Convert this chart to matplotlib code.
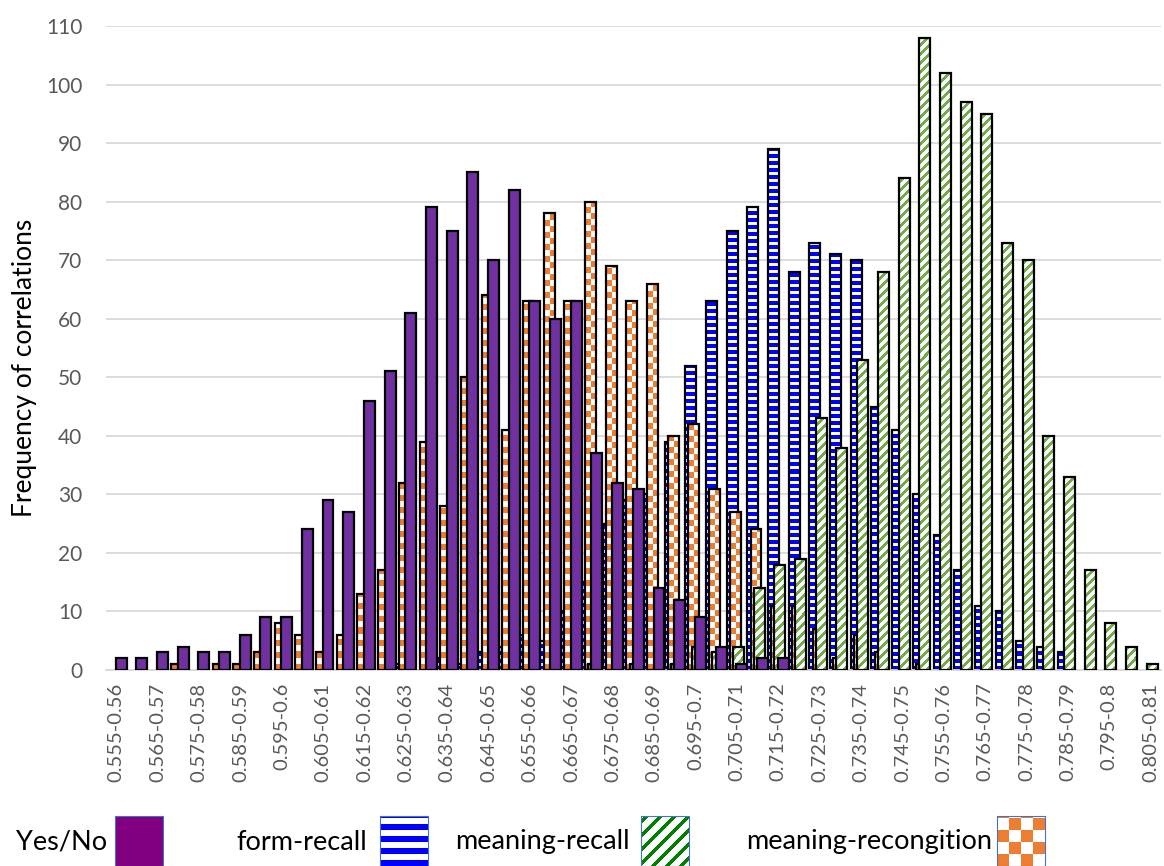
import numpy as np
import matplotlib
matplotlib.use("Agg")
import matplotlib.pyplot as plt
from matplotlib.patches import Rectangle
from matplotlib.colors import to_rgb

plt.rcParams['font.family'] = ['Lato', 'DejaVu Sans']

# ---------------- data ----------------
# 51 bins of width 0.005 from 0.555 to 0.81; every other bin is labelled
tick_labels = ["0.555-0.56", "0.565-0.57", "0.575-0.58", "0.585-0.59", "0.595-0.6",
               "0.605-0.61", "0.615-0.62", "0.625-0.63", "0.635-0.64", "0.645-0.65",
               "0.655-0.66", "0.665-0.67", "0.675-0.68", "0.685-0.69", "0.695-0.7",
               "0.705-0.71", "0.715-0.72", "0.725-0.73", "0.735-0.74", "0.745-0.75",
               "0.755-0.76", "0.765-0.77", "0.775-0.78", "0.785-0.79", "0.795-0.8",
               "0.805-0.81"]

yes_no = [2, 2, 3, 4, 3, 3, 6, 9, 9, 24,
          29, 27, 46, 51, 61, 79, 75, 85, 70, 82,
          63, 60, 63, 37, 32, 31, 14, 12, 9, 4,
          1, 2, 2, 0, 0, 0, 0, 0, 0, 0,
          0, 0, 0, 0, 0, 0, 0, 0, 0, 0, 0]

form_recall = [0, 0, 0, 0, 0, 0, 0, 0, 0, 0,
               0, 0, 0, 0, 1, 0, 2, 1, 3, 4,
               6, 5, 10, 15, 25, 29, 30, 39, 52, 63,
               75, 79, 89, 68, 73, 71, 70, 45, 41, 30,
               23, 17, 11, 10, 5, 4, 3, 0, 0, 0, 0]

meaning_recall = [0, 0, 0, 0, 0, 0, 0, 0, 0, 0,
                  0, 0, 0, 0, 0, 0, 0, 0, 0, 0,
                  0, 0, 0, 1, 0, 1, 0, 1, 4, 3,
                  4, 14, 18, 19, 43, 38, 53, 68, 84, 108,
                  102, 97, 95, 73, 70, 40, 33, 17, 8, 4, 1]

meaning_recognition = [0, 0, 0, 1, 0, 1, 1, 3, 8, 6,
                       3, 6, 13, 17, 32, 39, 28, 50, 64, 41,
                       63, 78, 63, 80, 69, 63, 66, 40, 42, 31,
                       27, 24, 11, 11, 7, 2, 6, 3, 0, 1,
                       0, 0, 0, 0, 0, 0, 0, 0, 0, 0, 0]

# ---------------- figure ----------------
W, H = 1164, 866
fig = plt.figure(figsize=(W / 100, H / 100), dpi=100)
L, R, T, B = 106, 1161, 26, 670
ax = fig.add_axes([L / W, 1 - B / H, (R - L) / W, (B - T) / H])

n = len(yes_no)
x = np.arange(n)
ymax = 110
px_x = (R - L) / n
px_y = (B - T) / ymax

bw = 0.53
step = 0.155
offs = [-1.5 * step, -0.5 * step, 0.5 * step, 1.5 * step]


def pattern(kind, w, h, color, p=6, t=3):
    yy, xx = np.mgrid[0:h, 0:w]
    yb = h - 1 - yy
    if kind == 'h':
        mask = (yb % p) < t
    elif kind == 'd':
        mask = ((yb - xx) % p) < t
    else:  # checker
        mask = ((xx // p) + (yb // p)) % 2 == 0
    img = np.ones((h, w, 3))
    img[mask] = to_rgb(color)
    return img


def patterned_bars(vals, off, kind, color, z, p, t):
    vals = np.asarray(vals, float)
    for k, v in enumerate(vals):
        if v <= 0:
            continue
        x0 = k + off - bw / 2
        wpx = max(1, int(round(bw * px_x)))
        hpx = max(1, int(round(v * px_y)))
        ax.imshow(pattern(kind, wpx, hpx, color, p, t), extent=(x0, x0 + bw, 0, v),
                  aspect='auto', interpolation='nearest', origin='upper', zorder=z)
    m = vals > 0
    ax.bar(x[m] + off, vals[m], width=bw, fill=False, edgecolor='black',
           linewidth=1.6, zorder=z + 0.1)


# drawing order (later on top): form-recall, meaning-recognition, meaning-recall, Yes/No
patterned_bars(form_recall, offs[0], 'h', '#0000FF', 2, 7, 4)
patterned_bars(meaning_recognition, offs[1], 'c', '#ED7D31', 3, 6, 3)
patterned_bars(meaning_recall, offs[2], 'd', '#70AD47', 4, 9, 4)
yn = np.asarray(yes_no, float)
m = yn > 0
ax.bar(x[m] + offs[3], yn[m], width=bw, color='#7030A0', edgecolor='black',
       linewidth=1.6, zorder=5)

ax.set_xlim(-0.5, n - 0.5)
ax.set_ylim(0, ymax)
ax.set_yticks(np.arange(0, ymax + 1, 10))
ax.set_xticks(np.arange(0, n, 2))
ax.set_xticklabels(tick_labels, rotation=90, ha='center', va='top')
ax.tick_params(axis='x', length=0, pad=9, labelsize=14.5, labelcolor='#595959')
ax.tick_params(axis='y', length=0, pad=17, labelsize=15, labelcolor='#595959')
ax.grid(axis='y', color='#D9D9D9', linewidth=1.3, zorder=0)
ax.set_axisbelow(True)
for s in ['top', 'right', 'left']:
    ax.spines[s].set_visible(False)
ax.spines['bottom'].set_color('#D9D9D9')
ax.spines['bottom'].set_linewidth(1.3)

# ---------------- overlay: y label and custom legend ----------------
lax = fig.add_axes([0, 0, 1, 1], zorder=-1)
lax.set_xlim(0, W)
lax.set_ylim(H, 0)
lax.axis('off')

lax.text(25, 368, "Frequency of correlations", rotation=90, ha='center', va='center',
         fontsize=19, color='black')

legend_items = [
    ("Yes/No", 16, 115, 's', '#800080'),
    ("form-recall", 236, 380, 'h', '#0000FF'),
    ("meaning-recall", 455, 641, 'd', '#008000'),
    ("meaning-recongition", 746, 997, 'c', '#ED7D31'),
]
sw_w, sw_top, sw_bot = 48, 816, 866
for label, tx, sx, kind, col in legend_items:
    lax.text(tx, 842, label, ha='left', va='center', fontsize=19.5, color='black')
    if kind == 's':
        lax.add_patch(Rectangle((sx, sw_top), sw_w, sw_bot - sw_top, facecolor=col,
                                edgecolor='#4472C4', linewidth=0.8))
    else:
        p, t = {'h': (12, 6), 'd': (14, 5), 'c': (12, 0)}[kind]
        img = pattern(kind, sw_w, sw_bot - sw_top, col, p, t)
        lax.imshow(img, extent=(sx, sx + sw_w, sw_bot, sw_top), aspect='auto',
                   interpolation='nearest', origin='upper')
        lax.add_patch(Rectangle((sx, sw_top), sw_w, sw_bot - sw_top, fill=False,
                                edgecolor='#4472C4', linewidth=0.8))
lax.set_xlim(0, W)
lax.set_ylim(H, 0)

fig.savefig("out.png", dpi=100)
